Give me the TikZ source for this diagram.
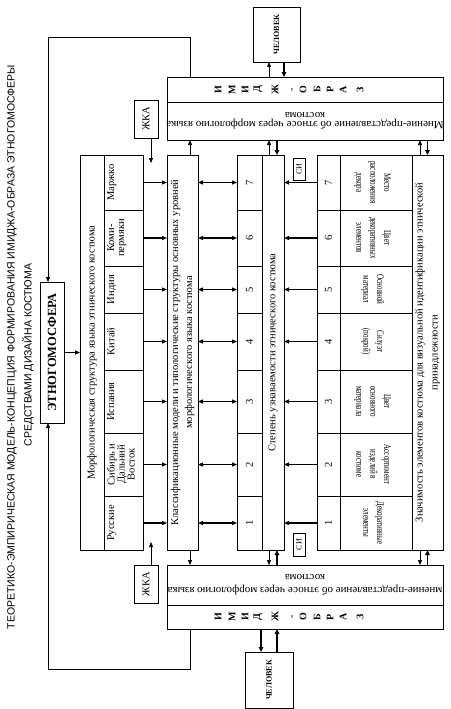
\documentclass[tikz,border=0pt]{standalone}
\usepackage{fontspec}
\setmainfont{Liberation Serif}
\newfontfamily\headfont{Liberation Sans}
\usetikzlibrary{positioning, arrows.meta, calc}
\newcommand{\tallstack}[1]{\scalebox{1}[1.45]{\begin{tabular}{@{}c@{}}#1\end{tabular}}}
\tikzset{
  blk/.style={draw, line width=0.6pt, inner sep=0pt, outer sep=0pt},
  txt/.style={inner sep=0pt, align=center, font=\fontsize{10.5}{10}\selectfont},
  up/.style={txt, rotate=90},
  dn/.style={txt, rotate=-90},
  inv/.style={txt, rotate=180},
  arr/.style={-{Triangle[length=5pt, width=4pt]}, line width=0.7pt},
  thk/.style={-{Triangle[length=5pt, width=4.5pt]}, line width=1.5pt},
  darr/.style={{Triangle[length=5pt, width=4pt]}-{Triangle[length=5pt, width=4pt]}, line width=1.1pt},
}

\begin{document}
\begin{tikzpicture}[x=1pt, y=-1pt]
  \useasboundingbox (0,0) rectangle (450,709);
  % title, read from bottom to top
  \node[up, font=\headfont\fontsize{10.5}{12}\selectfont] (ttl1) at (12,347)
    {ТЕОРЕТИКО-ЭМПИРИЧЕСКАЯ МОДЕЛЬ-КОНЦЕПЦИЯ ФОРМИРОВАНИЯ ИМИДЖА-ОБРАЗА ЭТНОГОМОСФЕРЫ};
  \node[up, font=\headfont\fontsize{10.5}{12}\selectfont] (ttl2) at (28,355)
    {СРЕДСТВАМИ ДИЗАЙНА КОСТЮМА};

  \node[blk, minimum width=24, minimum height=141] (eth) at (52,352.5) {};
  \node[up, font=\bfseries\fontsize{12.5}{14}\selectfont] (ethl) at (eth) {ЭТНОГОМОСФЕРА};

  % columns
  \node[blk, minimum width=24, minimum height=395] (mt) at (92,352.5) {};
  \node[up] (mtl) at (mt) {Морфологическая структура языка этнического костюма};
  \node[blk, minimum width=31, minimum height=395] (cls) at (182.5,352.5) {};
  \node[up, font=\fontsize{10.5}{14}\selectfont] (clsl) at (cls)
    {Классификационные модели и типологические структуры основных уровней\\морфологического языка костюма};
  \node[blk, minimum width=22, minimum height=395] (st) at (273,352.5) {};
  \node[up] (stl) at (st) {Степень узнаваемости этнического костюма};
  \node[blk, minimum width=31, minimum height=395] (zn) at (427.5,352.5) {};
  \node[up, font=\fontsize{10.5}{15}\selectfont] (znl) at (zn)
    {Значимость элементов костюма для визуальной идентификации этнической\\принадлежности};

  % rows 1..7
  \foreach \rw/\yc/\hh/\ms/\el in {
    1/523/54/{Русские}/{Декоративные\\элементы},
    2/464.5/63/{Сибирь и\\Дальний\\Восток}/{Ассортимент\\изделий в\\костюме},
    3/401.5/63/{Испания}/{Цвет\\основного\\материала},
    4/341.5/57/{Китай}/{Силуэт\\(покрой)},
    5/289.5/47/{Индия}/{Основной\\материал},
    6/238/56/{Коми-\\пермяки}/{Цвет\\декоративных\\элементов},
    7/182.5/55/{Маржко}/{Место\\расположения\\декора}}
  { \node[blk, minimum width=39, minimum height=\hh] (m\rw) at (123.5,\yc) {};
    \node[up, anchor=north] (ml\rw) at (107,\yc) {\ms};
    \node[blk, minimum width=25, minimum height=\hh] (n\rw) at (249.5,\yc) {};
    \node[up] (nl\rw) at (n\rw) {\rw};
    \node[blk, minimum width=23, minimum height=\hh] (k\rw) at (328.5,\yc) {};
    \node[up] (kl\rw) at (k\rw) {\rw};
    \node[blk, minimum width=72, minimum height=\hh] (e\rw) at (376,\yc) {};
    \node[dn, font=\fontsize{7}{9.5}\selectfont] (el\rw) at ([xshift=-3pt]e\rw) {\tallstack{\el}};
    \draw[darr, line width=1.2pt, -{Triangle[length=5pt, width=4pt]}] (m\rw.east) -- (cls.west |- m\rw.east);
    \draw[darr] (cls.east |- n\rw.west) -- (n\rw.west);
    \draw[darr, -{Triangle[length=5pt, width=4pt]}] (k\rw.west) -- (st.east |- k\rw.west); }

  % image blocks
  \node[blk, minimum width=276, minimum height=25] (it1) at (305,89.5) {};
  \node[blk, minimum width=276, minimum height=38] (it2) at (305,121) {};
  \node[blk, minimum width=276, minimum height=40] (ib1) at (305,585) {};
  \node[blk, minimum width=276, minimum height=24] (ib2) at (305,617) {};
  \foreach \lx/\lt in {218/И,232/М,245/И,258/Д,275/Ж,293/-,303/О,317/Б,330/Р,343/А,360/З}
  { \node[up, font=\bfseries\fontsize{10}{10}\selectfont] (ia\lx) at (\lx,89.5) {\lt};
    \node[up, font=\bfseries\fontsize{10}{10}\selectfont] (ib\lx) at (\lx,617) {\lt}; }
  \node[inv, font=\fontsize{11}{9.5}\selectfont] (it2l) at (it2)
    {Мнение-представление об этносе через морфологию языка\\костюма};
  \node[inv, font=\fontsize{11}{13}\selectfont] (ib1l) at (ib1)
    {мнение-представление об этносе через морфологию языка\\костюма};

  % people, ЖКА, СИ
  \node[blk, minimum width=47, minimum height=55] (ct) at (276.5,34.5) {};
  \node[up, font=\bfseries\fontsize{8}{9}\selectfont] (ctl) at (ct) {ЧЕЛОВЕК};
  \node[blk, minimum width=48, minimum height=56] (cb) at (269,680) {};
  \node[up, font=\bfseries\fontsize{8}{9}\selectfont] (cbl) at (cb) {ЧЕЛОВЕК};
  \node[blk, minimum width=24, minimum height=38] (jt) at (146,119) {};
  \node[up] (jtl) at (jt) {ЖКА};
  \node[blk, minimum width=24, minimum height=38] (jb) at (146,584) {};
  \node[up] (jbl) at (jb) {ЖКА};
  \node[blk, minimum width=12, minimum height=22] (si1) at (299,169) {};
  \node[up, font=\fontsize{8}{9}\selectfont] (si1l) at (si1) {СИ};
  \node[blk, minimum width=12, minimum height=23] (si2) at (299,544.5) {};
  \node[up, font=\fontsize{8}{9}\selectfont] (si2l) at (si2) {СИ};
  \coordinate (jta) at (151,163);
  \coordinate (jba) at (151,542);

  % connectors
  \draw[arr, line width=1pt] (eth.east) -- (mt.west |- eth.east);
  \draw[arr] (jt.south -| jta) -- (jta);
  \draw[arr] (jb.north -| jba) -- (jba);
  \draw[arr] ([xshift=7.5pt]cls.north) -- ([xshift=7.5pt]cls.north |- it2.south);
  \draw[arr] ([xshift=7.5pt]cls.south) -- ([xshift=7.5pt]cls.south |- ib1.north);
  \draw[arr] ([xshift=-4pt]st.north) -- ([xshift=-4pt]st.north |- it2.south);
  \draw[thk] ([xshift=4pt]st.north |- it2.south) -- ([xshift=4pt]st.north);
  \draw[arr] ([xshift=-4pt]st.south) -- ([xshift=-4pt]st.south |- ib1.north);
  \draw[thk] ([xshift=4pt]st.south |- ib1.north) -- ([xshift=4pt]st.south);
  \draw[arr] ([xshift=-7.5pt]zn.north) -- ([xshift=-7.5pt]zn.north |- it2.south);
  \draw[thk] (zn.north |- it2.south) -- (zn.north);
  \draw[arr] ([xshift=-7.5pt]zn.south) -- ([xshift=-7.5pt]zn.south |- ib1.north);
  \draw[thk] (zn.south |- ib1.north) -- (zn.south);
  \draw[arr] ([xshift=-7.5pt]ct.south |- it1.north) -- ([xshift=-7.5pt]ct.south);
  \draw[thk] ([xshift=7.5pt]ct.south) -- ([xshift=7.5pt]ct.south |- it1.north);
  \draw[thk] ([xshift=-8pt]cb.north |- ib2.south) -- ([xshift=-8pt]cb.north);
  \draw[thk] ([xshift=8pt]cb.north) -- ([xshift=8pt]cb.north |- ib2.south);
  % feedback to ЭТНОГОМОСФЕРА
  \draw[arr] ([xshift=7.5pt]cls.north |- it1.north) -- ++(0,-40) -| ([xshift=-4pt]eth.north);
  \draw[arr] ([xshift=7.5pt]cls.south |- ib2.south) -- ++(0,40) -| ([xshift=-4pt]eth.south);
\end{tikzpicture}
\end{document}
